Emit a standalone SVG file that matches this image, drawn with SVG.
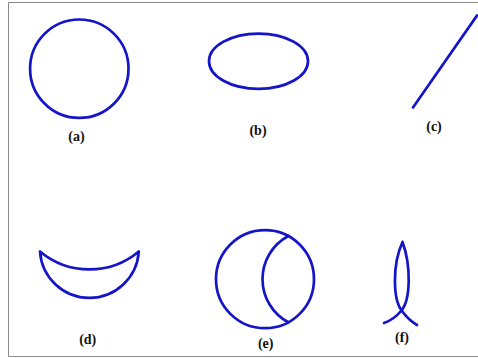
<svg xmlns="http://www.w3.org/2000/svg" width="478" height="358" viewBox="0 0 478 358">
<style>
.s{fill:none;stroke:#1414c8;stroke-width:2.7;stroke-linecap:round}
.t{font-family:'Liberation Serif','Times New Roman',serif;font-weight:bold;font-size:14px;fill:#111;text-anchor:middle}
</style>
<rect width="478" height="358" fill="#fff"/>
<path d="M478,2.5 H8.5 V356.5 H478" fill="none" stroke="#8a8a8a" stroke-width="1"/>
<g id="a"><circle class="s" cx="79.3" cy="68.7" r="49.2"/><text class="t" x="76.5" y="141">(a)</text></g>
<g id="b"><ellipse class="s" cx="258.5" cy="61.2" rx="49.5" ry="27.6"/><text class="t" x="258" y="135">(b)</text></g>
<g id="c"><line class="s" x1="413" y1="107.5" x2="477" y2="15.5"/><text class="t" x="434" y="131">(c)</text></g>
<g id="d"><path class="s" d="M40,251.5 A49.5,49.5 0 0 0 138.8,251.5 M40,251.5 A77,77 0 0 0 138.8,251.5"/><text class="t" x="87.7" y="343.5">(d)</text></g>
<g id="e"><circle class="s" cx="265" cy="279.2" r="49"/><path class="s" d="M288.3,236 A49,49 0 0 0 288.3,322.3"/><text class="t" x="265.7" y="347.5">(e)</text></g>
<g id="f"><path class="s" d="M402.5,242 C392,265 393,300 402,311 C407,318 412,322 417,325 M402.5,242 C411,265 411,300 401,311 C396,317 390,321 384,323"/><text class="t" x="402" y="342">(f)</text></g>
</svg>
